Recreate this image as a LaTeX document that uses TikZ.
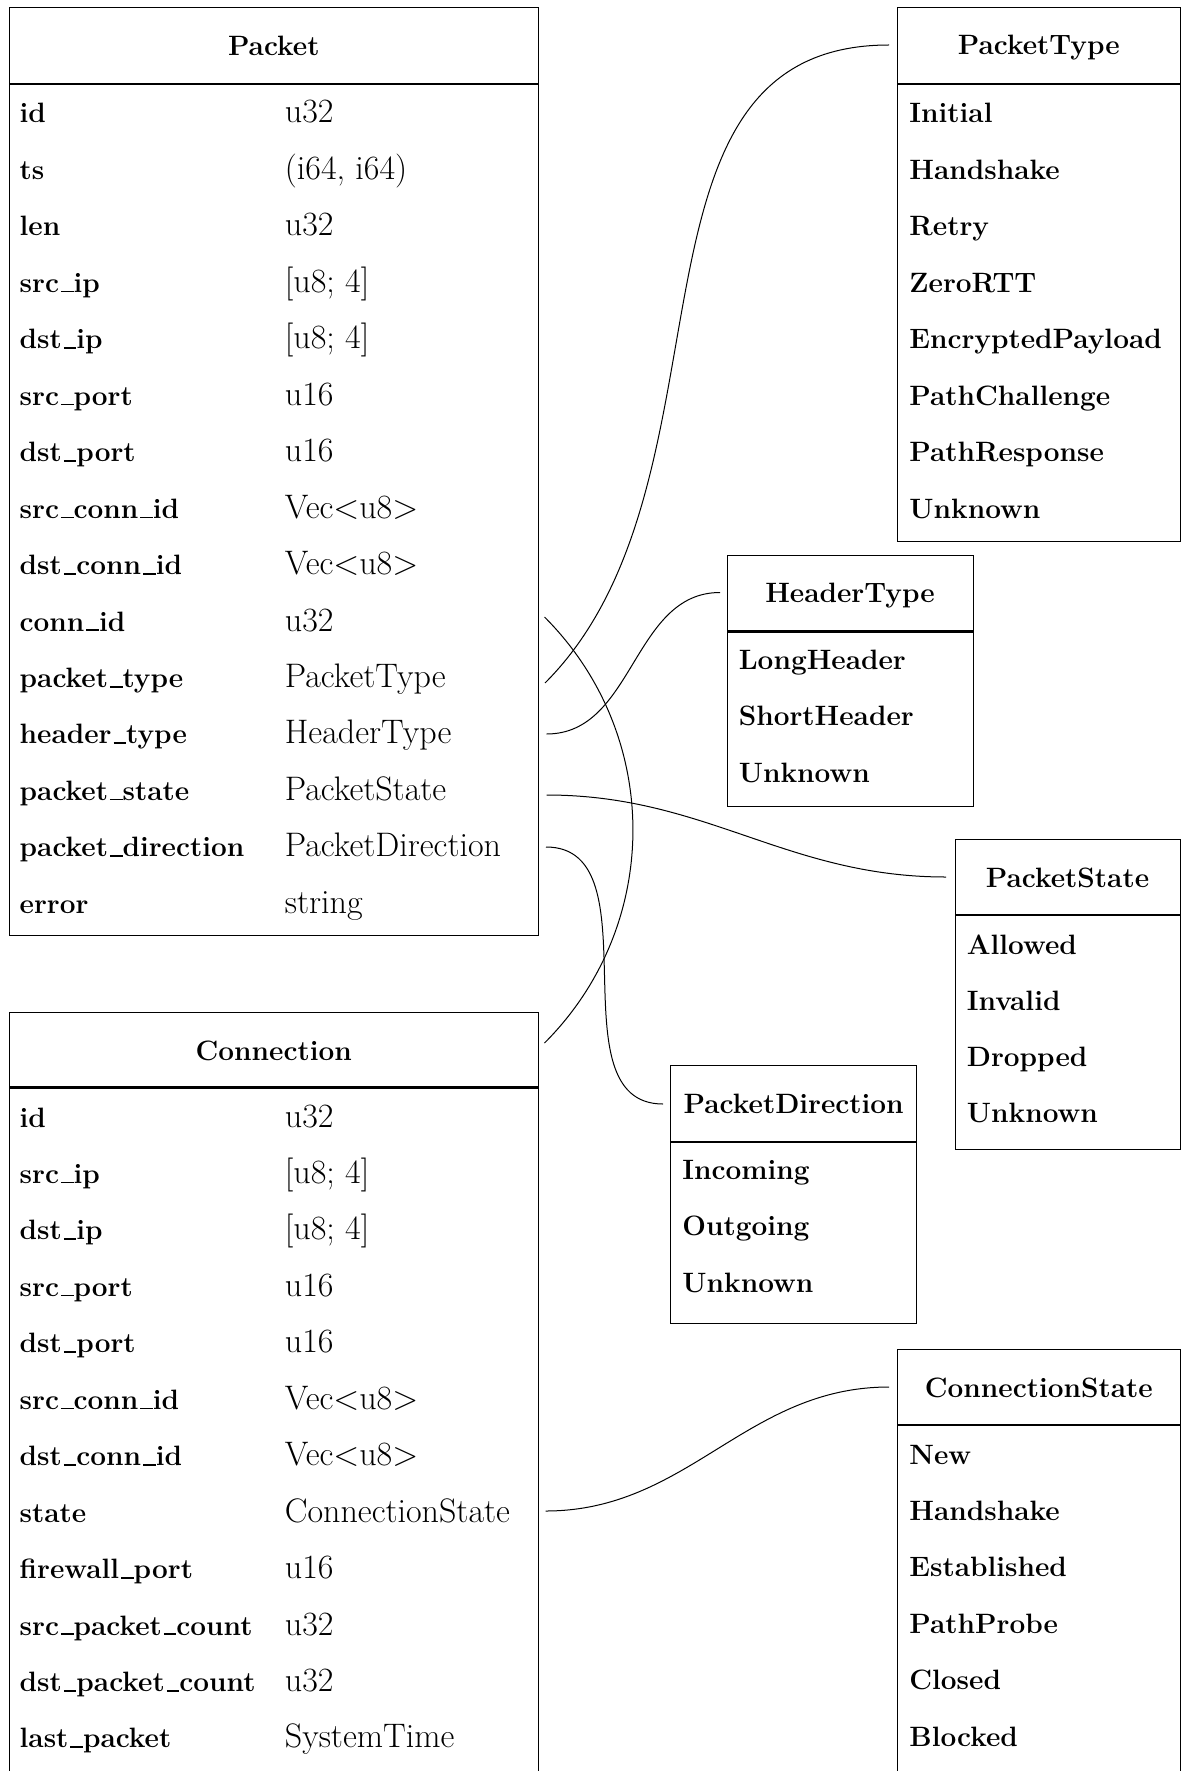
\documentclass[tikz,border=0pt]{standalone}
\usetikzlibrary{fit}
\newcommand{\us}{\leavevmode\kern.07em\vbox{\hrule width .45em height .8pt}}
\begin{document}
\begin{tikzpicture}[x=0.5pt,y=-0.5pt]
\tikzset{
  frame/.style={draw=black, line width=0.5pt, inner sep=0pt},
  sepline/.style={line width=1.1pt},
  ttl/.style={font=\fontsize{14}{16}\selectfont\bfseries, anchor=base, inner sep=0pt},
  fname/.style={font=\fontsize{14}{16}\selectfont\bfseries, anchor=base west, inner sep=0pt},
  ftype/.style={font=\fontsize{17}{19}\selectfont, anchor=base west, inner sep=0pt},
  link/.style={line width=0.5pt}
}
\useasboundingbox (0,0) rectangle (1181,1771);

% ---------- Packet ----------
\node[frame, fit={(9,8) (538.6,935)}] (packet) {};
\draw[sepline] (9,84) -- (538.6,84);
\node[ttl] (packetT) at (273.8,56) {Packet};
\foreach \n/\t [count=\i from 0] in {id/u32, ts/{(i64, i64)}, len/u32, src\us ip/{[u8; 4]}, dst\us ip/{[u8; 4]}, src\us port/u16, dst\us port/u16, src\us conn\us id/Vec<u8>, dst\us conn\us id/Vec<u8>, conn\us id/u32, packet\us type/PacketType, header\us type/HeaderType, packet\us state/PacketState, packet\us direction/PacketDirection, error/string} {
  \node[fname] (pn\i) at (19.3,123+56.45*\i) {\n};
  \node[ftype] (pv\i) at (284.5,123+56.45*\i) {\t};
}

% ---------- Connection ----------
\node[frame, fit={(9,1012) (538.6,1776)}] (conn) {};
\draw[sepline] (9,1087.5) -- (538.6,1087.5);
\node[ttl] (connT) at (273.8,1060) {Connection};
\foreach \n/\t [count=\i from 0] in {id/u32, src\us ip/{[u8; 4]}, dst\us ip/{[u8; 4]}, src\us port/u16, dst\us port/u16, src\us conn\us id/Vec<u8>, dst\us conn\us id/Vec<u8>, state/ConnectionState, firewall\us port/u16, src\us packet\us count/u32, dst\us packet\us count/u32, last\us packet/SystemTime} {
  \node[fname] (cn\i) at (19.3,1127+56.45*\i) {\n};
  \node[ftype] (cv\i) at (284.5,1127+56.45*\i) {\t};
}

% ---------- PacketType ----------
\node[frame, fit={(897.6,8) (1180,541)}] (ptype) {};
\draw[sepline] (897.6,84) -- (1180,84);
\node[ttl] (ptypeT) at (1038.8,55) {PacketType};
\foreach \n [count=\i from 0] in {Initial, Handshake, Retry, ZeroRTT, EncryptedPayload, PathChallenge, PathResponse, Unknown} {
  \node[fname] (pt\i) at (909,123+56.45*\i) {\n};
}

% ---------- HeaderType ----------
\node[frame, fit={(727,555.5) (973,806)}] (htype) {};
\draw[sepline] (727,631.5) -- (973,631.5);
\node[ttl] (htypeT) at (850,602) {HeaderType};
\foreach \n [count=\i from 0] in {LongHeader, ShortHeader, Unknown} {
  \node[fname] (ht\i) at (738.4,669+56.5*\i) {\n};
}

% ---------- PacketState ----------
\node[frame, fit={(955,839) (1180,1149.5)}] (pstate) {};
\draw[sepline] (955,915) -- (1180,915);
\node[ttl] (pstateT) at (1067.5,887) {PacketState};
\foreach \n [count=\i from 0] in {Allowed, Invalid, Dropped, Unknown} {
  \node[fname] (ps\i) at (966.5,954+56.2*\i) {\n};
}

% ---------- PacketDirection ----------
\node[frame, fit={(670.7,1065.5) (916.7,1323.5)}] (pdir) {};
\draw[sepline] (670.7,1142) -- (916.7,1142);
\node[ttl] (pdirT) at (793.7,1113) {PacketDirection};
\foreach \n [count=\i from 0] in {Incoming, Outgoing, Unknown} {
  \node[fname] (pd\i) at (682,1179+56.8*\i) {\n};
}

% ---------- ConnectionState ----------
\node[frame, fit={(897.6,1349) (1180,1776)}] (cstate) {};
\draw[sepline] (897.6,1425) -- (1180,1425);
\node[ttl] (cstateT) at (1038.8,1397) {ConnectionState};
\foreach \n [count=\i from 0] in {New, Handshake, Established, PathProbe, Closed, Blocked} {
  \node[fname] (cs\i) at (909,1464+56.45*\i) {\n};
}

% ---------- connectors ----------
\coordinate (a1) at (545,683);   \coordinate (b1) at (889,45);
\coordinate (a2) at (546.5,734); \coordinate (b2) at (720,592.5);
\coordinate (a3) at (546.5,795); \coordinate (b3) at (946,877);
\coordinate (a4) at (546,847);   \coordinate (b4) at (663,1104);
\coordinate (a5) at (544.5,617); \coordinate (b5) at (544.5,1043);
\coordinate (a6) at (545.5,1511);\coordinate (b6) at (889,1387);

\draw[link] (a1) .. controls +(200.7,-200.7) and +(-283.8,0) .. (b1);
\draw[link] (a2) .. controls +(87.7,0) and +(-87.7,0) .. (b2);
\draw[link] (a3) .. controls +(159.7,0) and +(-159.7,0) .. (b3);
\draw[link] (a4) .. controls +(110.6,0) and +(-110.6,0) .. (b4);
\draw[link] (a5) .. controls +(117.9,117.9) and +(117.9,-117.9) .. (b5);
\draw[link] (a6) .. controls +(143,0) and +(-143,0) .. (b6);
\end{tikzpicture}
\end{document}
